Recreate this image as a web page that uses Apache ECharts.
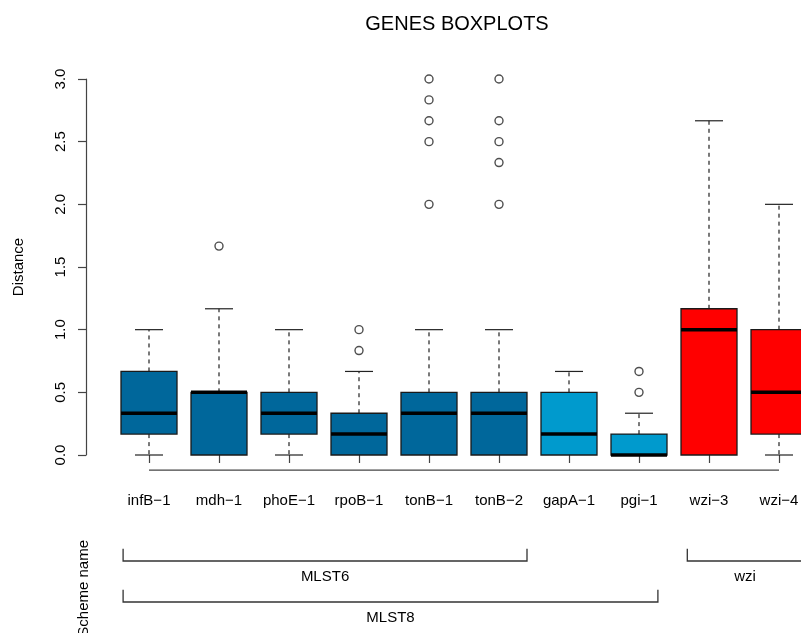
<!DOCTYPE html>
<html>
<head>
<meta charset="utf-8">
<script src="https://cdn.jsdelivr.net/npm/echarts@6/dist/echarts.min.js"></script>
<style>
html,body{margin:0;padding:0;background:#fff;}
#chart{width:801px;height:633px;}
</style>
</head>
<body>
<div id="chart"></div>
<script>
// ---- data ----
var categories = ['infB\u22121','mdh\u22121','phoE\u22121','rpoB\u22121','tonB\u22121','tonB\u22122','gapA\u22121','pgi\u22121','wzi\u22123','wzi\u22124'];
// [lower whisker, Q1, median, Q3, upper whisker]
var boxStats = [
  [0, 0.1667, 0.3333, 0.6667, 1.0],
  [0, 0, 0.5, 0.5, 1.1667],
  [0, 0.1667, 0.3333, 0.5, 1.0],
  [0, 0, 0.1667, 0.3333, 0.6667],
  [0, 0, 0.3333, 0.5, 1.0],
  [0, 0, 0.3333, 0.5, 1.0],
  [0, 0, 0.1667, 0.5, 0.6667],
  [0, 0, 0, 0.1667, 0.3333],
  [0, 0, 1.0, 1.1667, 2.6667],
  [0, 0.1667, 0.5, 1.0, 2.0]
];
var outliers = [
  [],
  [1.6667],
  [],
  [0.8333, 1.0],
  [2.0, 2.5, 2.6667, 2.8333, 3.0],
  [2.0, 2.3333, 2.5, 2.6667, 3.0],
  [],
  [0.5, 0.6667],
  [],
  []
];
var boxColors = ['#00679B','#00679B','#00679B','#00679B','#00679B','#00679B','#009ACD','#009ACD','#FF0000','#FF0000'];
var yTicks = [0, 0.5, 1.0, 1.5, 2.0, 2.5, 3.0];
// scheme brackets (in category-index units)
var schemeNames = ['MLST6', 'MLST8', 'wzi'];
var schemeStart = [-0.37, -0.37, 7.69];
var schemeEnd = [5.4, 7.27, 9.34];
var schemeLevel = [1, 2, 1];

// ---- build ----
var FONT = 'Liberation Sans, Arial, Helvetica, sans-serif';
var boxData = boxStats.map(function (s, i) { return [i].concat(s); });
var outlierData = [];
outliers.forEach(function (arr, i) { arr.forEach(function (v) { outlierData.push([i, v]); }); });
var schemeData = schemeNames.map(function (n, i) { return [schemeStart[i], schemeEnd[i], schemeLevel[i], n]; });
var xAxisY = -0.12; // R's usr lower bound

var chart = echarts.init(document.getElementById('chart'), null, {renderer: 'canvas'});
chart.setOption({
  animation: false,
  backgroundColor: '#fff',
  textStyle: {fontFamily: FONT},
  title: {
    text: 'GENES BOXPLOTS',
    left: 452, top: 9, textAlign: 'center',
    textStyle: {fontFamily: FONT, fontSize: 20, fontWeight: 'normal', color: '#000'}
  },
  graphic: [{
    type: 'text',
    left: 76, top: 540,
    rotation: Math.PI / 2,
    style: {text: 'Scheme name', font: '15px ' + FONT, fill: '#000', textAlign: 'right', textVerticalAlign: 'top'}
  }],
  grid: [
    {left: 114, width: 700, top: 79, height: 376, containLabel: false, outerBoundsMode: 'none'},
    {left: 114, width: 700, top: 520, height: 82, containLabel: false, outerBoundsMode: 'none'}
  ],
  xAxis: [{
    type: 'category', gridIndex: 0, data: categories,
    offset: 15,
    axisLine: {show: false},
    axisTick: {show: true, alignWithLabel: true, length: 8, lineStyle: {color: '#444', width: 1.2}},
    axisLabel: {fontFamily: FONT, fontSize: 15, color: '#000', margin: 23, interval: 0},
    splitLine: {show: false}
  }, {
    type: 'value', gridIndex: 1, min: -0.5, max: 9.5, show: false
  }],
  yAxis: [{
    type: 'value', gridIndex: 0, min: 0, max: 3, interval: 0.5,
    offset: 28,
    name: 'Distance', nameLocation: 'middle', nameGap: 60,
    nameTextStyle: {fontFamily: FONT, fontSize: 15, color: '#000'},
    axisLine: {show: true, lineStyle: {color: '#444', width: 1.2}},
    axisTick: {show: true, length: 8, lineStyle: {color: '#444', width: 1.2}},
    axisLabel: {rotate: 90, fontFamily: FONT, fontSize: 15, color: '#000', margin: 18,
      formatter: function (v) { return v.toFixed(1); }},
    splitLine: {show: false}
  }, {
    type: 'value', gridIndex: 1, min: 0, max: 2, inverse: true, show: false
  }],
  series: [
    {
      type: 'custom', xAxisIndex: 0, yAxisIndex: 0, clip: false,
      data: boxData,
      encode: {x: 0, y: [1, 2, 3, 4, 5]},
      renderItem: function (params, api) {
        var i = api.value(0);
        var band = api.size([1, 0])[0];
        var cx = api.coord([i, 0])[0];
        var bw = band * 0.8, cw = band * 0.4;
        var pLo = api.coord([i, api.value(1)])[1];
        var pQ1 = api.coord([i, api.value(2)])[1];
        var pMed = api.coord([i, api.value(3)])[1];
        var pQ3 = api.coord([i, api.value(4)])[1];
        var pHi = api.coord([i, api.value(5)])[1];
        var col = boxColors[params.dataIndex];
        var dash = {stroke: '#222', lineWidth: 1.2, lineDash: [4, 4]};
        var solid = {stroke: '#222', lineWidth: 1.2};
        var children = [];
        if (pHi < pQ3) {
          children.push({type: 'line', shape: {x1: cx, y1: pQ3, x2: cx, y2: pHi}, style: dash});
          children.push({type: 'line', shape: {x1: cx - cw / 2, y1: pHi, x2: cx + cw / 2, y2: pHi}, style: solid});
        }
        if (pLo > pQ1) {
          children.push({type: 'line', shape: {x1: cx, y1: pQ1, x2: cx, y2: pLo}, style: dash});
          children.push({type: 'line', shape: {x1: cx - cw / 2, y1: pLo, x2: cx + cw / 2, y2: pLo}, style: solid});
        }
        children.push({type: 'rect', shape: {x: cx - bw / 2, y: pQ3, width: bw, height: pQ1 - pQ3},
          style: {fill: col, stroke: '#1a1a1a', lineWidth: 1.3}});
        children.push({type: 'line', shape: {x1: cx - bw / 2, y1: pMed, x2: cx + bw / 2, y2: pMed},
          style: {stroke: '#000', lineWidth: 3.5}});
        return {type: 'group', children: children};
      }
    },
    {
      type: 'scatter', xAxisIndex: 0, yAxisIndex: 0, clip: false,
      data: outlierData,
      symbol: 'circle', symbolSize: 8,
      itemStyle: {color: 'rgba(0,0,0,0)', borderColor: '#222', borderWidth: 1.4}
    },
    {
      // x-axis baseline from first to last category
      type: 'line', xAxisIndex: 0, yAxisIndex: 0, clip: false,
      data: [[0, xAxisY], [categories.length - 1, xAxisY]],
      symbol: 'none', silent: true,
      lineStyle: {color: '#444', width: 1.2}
    },
    {
      type: 'custom', xAxisIndex: 1, yAxisIndex: 1, clip: false,
      data: schemeData,
      encode: {x: [0, 1], y: 2},
      renderItem: function (params, api) {
        var s = api.value(0), e = api.value(1), lv = api.value(2);
        var p1 = api.coord([s, lv]);
        var p2 = api.coord([e, lv]);
        var top = api.coord([s, lv - 0.3])[1];
        var name = schemeNames[params.dataIndex];
        return {type: 'group', children: [
          {type: 'polyline', shape: {points: [[p1[0], top], p1, p2, [p2[0], top]]},
            style: {stroke: '#333', lineWidth: 1.3, fill: null}},
          {type: 'text', x: (p1[0] + p2[0]) / 2, y: p1[1] + 8,
            style: {text: name, font: '15px ' + FONT, fill: '#000', align: 'center', verticalAlign: 'top'}}
        ]};
      }
    }
  ]
});
</script>
</body>
</html>
